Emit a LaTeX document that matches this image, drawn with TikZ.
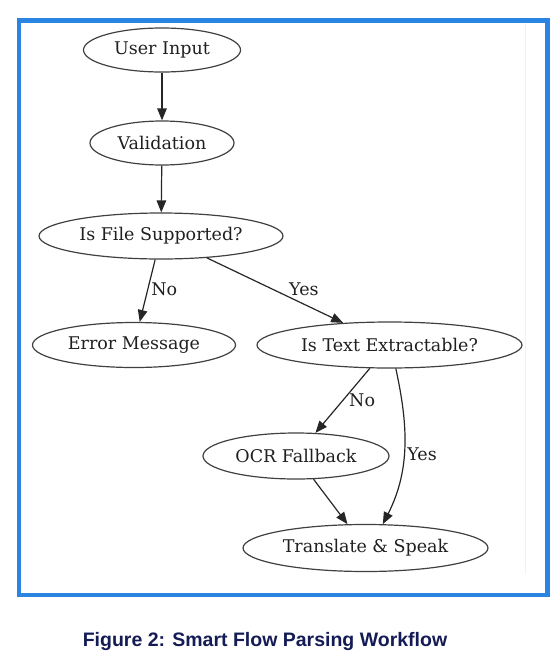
\documentclass[tikz,border=0pt]{standalone}
\usepackage{fontspec}
\setmainfont{DejaVu Serif}
\newfontfamily\captionfont{Liberation Sans}
\usepackage{tikz}
\usetikzlibrary{shapes.geometric,arrows.meta}

\definecolor{frameblue}{RGB}{42,133,226}
\definecolor{captionnavy}{RGB}{20,27,85}

\begin{document}
\begin{tikzpicture}[
  x=1pt, y=-1pt,
  flow/.style={draw=black!75, ellipse, line width=1.2pt, inner sep=0pt, text=black!88, font=\fontsize{17.5}{20}\selectfont},
  arrow/.style={-{Triangle[length=12pt,width=9.5pt]}, line width=1.2pt, draw=black!85},
  lbl/.style={font=\fontsize{17.5}{20}\selectfont, text=black!88, inner sep=1pt, anchor=west}
]
\useasboundingbox (0,0) rectangle (558,654);

% Frame
\draw[frameblue, line width=4.5pt] (19,20.5) rectangle (547.5,595);
\draw[black!5, line width=0.8pt] (525,23) -- (525,574);

% Main column
\node[flow, minimum width=157pt, minimum height=44pt] (input) at (162,50) {User Input};
\node[flow, minimum width=144pt, minimum height=44pt] (valid) at (162,143) {Validation};
\node[flow, minimum width=244pt, minimum height=46pt] (supported) at (161,236) {Is File Supported?};

% Branches
\node[flow, minimum width=203pt, minimum height=45pt] (error) at (134,345) {Error Message};
\node[flow, minimum width=265pt, minimum height=46pt] (extract) at (389.5,345) {Is Text Extractable?};
\node[flow, minimum width=186pt, minimum height=46pt] (ocr) at (296,456) {OCR Fallback};

% Final step
\node[flow, minimum width=245pt, minimum height=47pt] (speak) at (365.5,548) {Translate \& Speak};

% Arrows
\draw[arrow] (input) -- (valid);
\draw[arrow] (valid) -- (supported);
\draw[arrow] (supported) -- node[lbl, pos=0.48, xshift=2pt] {No} (error);
\draw[arrow] (supported) -- node[lbl, pos=0.49, xshift=14pt] {Yes} (extract);
\draw[arrow] (extract) -- node[lbl, pos=0.5, xshift=5pt] {No} (ocr);
\draw[arrow] (extract.-75) .. controls +(12,55) and +(28,-55) .. node[lbl, pos=0.55, xshift=2pt] {Yes} (speak.54);
\draw[arrow] (ocr) -- (speak);

% Caption
\node[font=\captionfont\fontsize{19.5}{22}\selectfont\bfseries, text=captionnavy] (caption) at (265,641) {Figure 2: Smart Flow Parsing Workflow};

\end{tikzpicture}
\end{document}
